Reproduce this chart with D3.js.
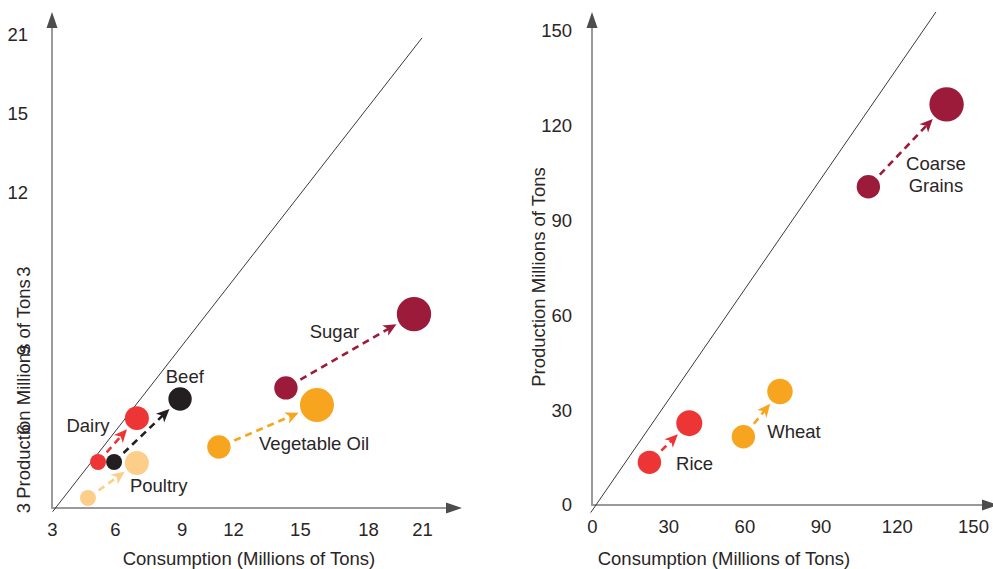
<!DOCTYPE html>
<html><head><meta charset="utf-8">
<script src="https://cdn.jsdelivr.net/npm/d3@7"></script>
<style>
body{margin:0;background:#fff}
svg{display:block}
text{font-family:"Liberation Sans",Arial,Helvetica,sans-serif;font-size:18.5px;fill:#2a2526}
</style>
</head><body>
<svg id="c" width="993" height="569"></svg>
<script>
// ---------- LEFT PANEL DATA ----------
const leftCats   = ["Poultry","Dairy","Beef","Vegetable Oil","Sugar"];
const leftColors = ["#FDCD8A","#EE3536","#231F20","#F7A51F","#9C1B3B"];
const leftStartX = [4.75, 5.24, 6.02, 11.12, 14.38];
const leftStartY = [3.38, 4.75, 4.75, 5.32, 7.57];
const leftEndX   = [7.13, 7.13, 9.23, 15.89, 20.61];
const leftEndY   = [4.71, 6.42, 7.15, 6.92, 10.38];
const leftStartW = [64, 64, 64, 137, 137];
const leftEndW   = [144, 144, 137, 289, 296];
const leftLabelX = [8.19, 4.75, 9.46, 15.75, 16.74];
const leftLabelY = [3.62, 5.90, 7.77, 5.21, 9.46];
const leftXTickAt     = [3, 6.06, 9.31, 11.81, 15.06, 18.37, 21];
const leftXTickLabels = ["3","6","9","12","15","18","21"];
const leftYTickAt     = [3, 6, 9, 12, 15, 18, 21];
const leftYTickLabels = ["3","6","9","3","12","15","21"];
const leftDiagX = [3.03, 21];
const leftDiagY = [2.86, 20.89];

// ---------- RIGHT PANEL DATA ----------
const rightCats   = ["Rice","Wheat","Coarse Grains"];
const rightColors = ["#EE3536","#F7A51F","#9C1B3B"];
const rightStartX = [22.6, 59.6, 108.8];
const rightStartY = [13.5, 21.6, 100.7];
const rightEndX   = [38.3, 74.0, 139.6];
const rightEndY   = [25.9, 35.9, 126.8];
const rightStartW = [137, 137, 137];
const rightEndW   = [169, 162, 296];
const rightLabelX = [40.4, 79.5, 135.4];
const rightLabelY = [11.1, 21.1, 106.0];
const rightXTickAt     = [0, 30, 60, 90, 120, 150];
const rightXTickLabels = ["0","30","60","90","120","150"];
const rightYTickAt     = [0, 30, 60, 90, 120, 150];
const rightYTickLabels = ["0","30","60","90","120","150"];
const rightDiagX = [-0.5, 135.4];
const rightDiagY = [-2.4, 156];

const xTitle = "Consumption (Millions of Tons)";
const yTitle = "Production Millions of Tons";

const svg = d3.select("#c");
const defs = svg.append("defs");
const rScale = d3.scaleSqrt().domain([0, 300]).range([0, 17.3]);

const allColors = Array.from(new Set(leftColors.concat(rightColors)));
allColors.forEach(c => {
  defs.append("marker")
    .attr("id", "m" + c.slice(1))
    .attr("viewBox", "-7 -7 15 14")
    .attr("refX", 0).attr("refY", 0)
    .attr("markerWidth", 15).attr("markerHeight", 14)
    .attr("markerUnits", "userSpaceOnUse")
    .attr("orient", "auto")
    .append("path")
    .attr("d", "M-6,-6 L7,0 L-6,6 L-2.5,0 Z")
    .attr("fill", c);
});

function panel(cfg) {
  const g = svg.append("g");
  const x = d3.scaleLinear().domain(cfg.xDomain).range(cfg.xRange);
  const y = d3.scaleLinear().domain(cfg.yDomain).range(cfg.yRange);
  const ox = cfg.xRange[0], oy = cfg.yRange[0];
  const axisCol = "#9a9a9a", headCol = "#4d4d4d";

  g.append("line").attr("x1", ox).attr("y1", oy).attr("x2", cfg.xTip - 12).attr("y2", oy)
    .attr("stroke", axisCol).attr("stroke-width", 2);
  g.append("path").attr("d", `M${cfg.xTip},${oy} L${cfg.xTip-16},${oy-5.5} L${cfg.xTip-16},${oy+5.5} Z`).attr("fill", headCol);
  g.append("line").attr("x1", ox).attr("y1", oy + 1).attr("x2", ox).attr("y2", cfg.yTip + 12)
    .attr("stroke", axisCol).attr("stroke-width", 2);
  g.append("path").attr("d", `M${ox},${cfg.yTip} L${ox-5.5},${cfg.yTip+16} L${ox+5.5},${cfg.yTip+16} Z`).attr("fill", headCol);

  g.append("line")
    .attr("x1", x(cfg.diagX[0])).attr("y1", y(cfg.diagY[0]))
    .attr("x2", x(cfg.diagX[1])).attr("y2", y(cfg.diagY[1]))
    .attr("stroke", "#3a3a3a").attr("stroke-width", 1);

  const xa = d3.axisBottom(x).tickValues(cfg.xTickAt).tickSize(0)
    .tickFormat((d, i) => cfg.xTickLabels[i]);
  const xg = g.append("g").attr("transform", `translate(0,${oy})`).call(xa);
  xg.select(".domain").remove();
  xg.selectAll("text").attr("y", 0).attr("dy", 0)
    .attr("transform", "translate(0,28)")
    .style("font-size", "18.5px").style("font-family", null).attr("fill", "#2a2526");

  const ticks = g.append("g");
  cfg.yTickAt.forEach((v, i) => {
    const rot = cfg.rotateY && cfg.rotateY(v);
    const t = ticks.append("text").text(cfg.yTickLabels[i]);
    if (rot) {
      t.attr("text-anchor", "middle").attr("dominant-baseline", "central")
        .attr("transform", `translate(${cfg.yTitleX},${y(v)}) rotate(-90)`);
    } else {
      t.attr("text-anchor", "end").attr("x", cfg.yTickX).attr("y", y(v)).attr("dy", "0.35em");
    }
  });

  g.append("text").attr("text-anchor", "middle").attr("x", cfg.xTitleX).attr("y", 565).text(xTitle);
  g.append("text").attr("text-anchor", "middle").attr("dominant-baseline", "central")
    .attr("transform", `translate(${cfg.yTitleX},${cfg.yTitleY}) rotate(-90)`).text(yTitle);

  cfg.cats.forEach((c, i) => {
    const x0 = x(cfg.sx[i]), y0 = y(cfg.sy[i]), x1 = x(cfg.ex[i]), y1 = y(cfg.ey[i]);
    const r0 = rScale(cfg.sw[i]), r1 = rScale(cfg.ew[i]);
    const dx = x1 - x0, dy = y1 - y0, d = Math.hypot(dx, dy);
    const ux = dx / d, uy = dy / d;
    const a = r0 + 5, b = r1 + 3 + 7;
    g.append("line")
      .attr("x1", x0 + ux * a).attr("y1", y0 + uy * a)
      .attr("x2", x1 - ux * b).attr("y2", y1 - uy * b)
      .attr("stroke", cfg.colors[i]).attr("stroke-width", 2.6)
      .attr("stroke-dasharray", "7,5")
      .attr("marker-end", `url(#m${cfg.colors[i].slice(1)})`);
    g.append("circle").attr("cx", x0).attr("cy", y0).attr("r", r0).attr("fill", cfg.colors[i]);
    g.append("circle").attr("cx", x1).attr("cy", y1).attr("r", r1).attr("fill", cfg.colors[i]);
    const words = c === "Coarse Grains" ? ["Coarse", "Grains"] : [c];
    const t = g.append("text").attr("text-anchor", "middle")
      .attr("x", x(cfg.lx[i])).attr("y", y(cfg.ly[i]));
    words.forEach((w, k) => t.append("tspan").attr("x", x(cfg.lx[i])).attr("dy", k ? 21.7 : 0).text(w));
  });
}

panel({
  xDomain: [3, 21], yDomain: [3, 21], xRange: [52, 422], yRange: [508, 35],
  xTip: 462, yTip: 12,
  diagX: leftDiagX, diagY: leftDiagY,
  xTickAt: leftXTickAt, xTickLabels: leftXTickLabels,
  yTickAt: leftYTickAt, yTickLabels: leftYTickLabels,
  rotateY: v => v <= 12, yTickX: 28,
  xTitleX: 249, yTitleX: 23, yTitleY: 389,
  cats: leftCats, colors: leftColors,
  sx: leftStartX, sy: leftStartY, ex: leftEndX, ey: leftEndY,
  sw: leftStartW, ew: leftEndW, lx: leftLabelX, ly: leftLabelY
});

panel({
  xDomain: [0, 150], yDomain: [0, 150], xRange: [592, 973], yRange: [505, 31],
  xTip: 998, yTip: 12,
  diagX: rightDiagX, diagY: rightDiagY,
  xTickAt: rightXTickAt, xTickLabels: rightXTickLabels,
  yTickAt: rightYTickAt, yTickLabels: rightYTickLabels,
  rotateY: null, yTickX: 572,
  xTitleX: 724, yTitleX: 538, yTitleY: 277,
  cats: rightCats, colors: rightColors,
  sx: rightStartX, sy: rightStartY, ex: rightEndX, ey: rightEndY,
  sw: rightStartW, ew: rightEndW, lx: rightLabelX, ly: rightLabelY
});
</script>
</body></html>
